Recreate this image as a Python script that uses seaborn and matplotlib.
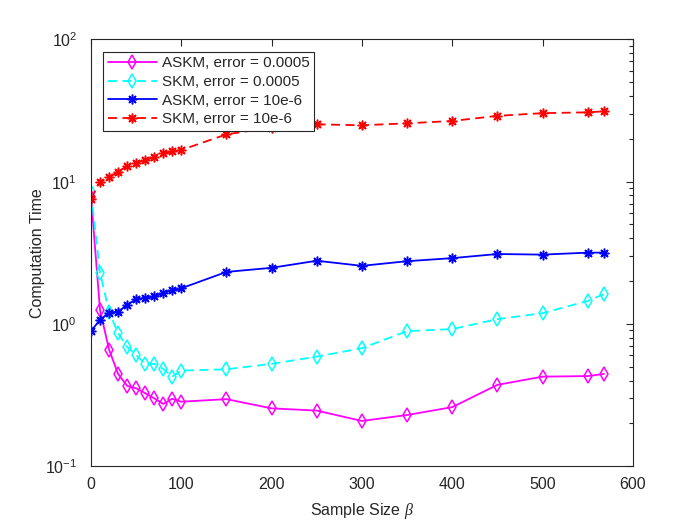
import numpy as np
import pandas as pd
import seaborn as sns
import matplotlib
matplotlib.use("Agg")
import matplotlib.pyplot as plt
from matplotlib.ticker import LogLocator, FixedLocator

# sample sizes
beta = [0, 10, 20, 30, 40, 50, 60, 70, 80, 90, 100,
        150, 200, 250, 300, 350, 400, 450, 500, 550, 568]

# computation times
askm_5e4 = [7.8, 1.25, 0.66, 0.445, 0.367, 0.353, 0.326, 0.30, 0.274, 0.298, 0.284,
            0.296, 0.255, 0.246, 0.208, 0.229, 0.26, 0.373, 0.426, 0.43, 0.445]
skm_5e4 = [8.4, 2.29, 1.22, 0.86, 0.69, 0.605, 0.524, 0.524, 0.483, 0.426, 0.47,
           0.48, 0.524, 0.589, 0.675, 0.89, 0.92, 1.08, 1.19, 1.45, 1.62]
askm_1e6 = [0.89, 1.07, 1.2, 1.22, 1.36, 1.49, 1.53, 1.56, 1.64, 1.73, 1.78,
            2.32, 2.48, 2.78, 2.56, 2.76, 2.9, 3.1, 3.07, 3.17, 3.17]
skm_1e6 = [7.6, 9.9, 10.7, 11.7, 12.9, 13.5, 14.2, 14.8, 15.8, 16.3, 16.7,
           21.5, 24.0, 25.3, 24.9, 25.7, 26.7, 29.0, 30.3, 30.7, 31.2]

labels = ["ASKM, error = 0.0005", "SKM, error = 0.0005",
          "ASKM, error = 10e-6", "SKM, error = 10e-6"]
colors = ["#ff00ff", "#00ffff", "#0000ff", "#ff0000"]
markers = ["d", "d", (8, 2, 0), (8, 2, 0)]
styles = ["-", "--", "-", "--"]

sns.set_style("white")
plt.rcParams["font.family"] = ["Liberation Sans", "DejaVu Sans"]
plt.rcParams["mathtext.fontset"] = "custom"
plt.rcParams["mathtext.rm"] = "Liberation Sans"
plt.rcParams["mathtext.it"] = "Liberation Serif:italic"
plt.rcParams["font.size"] = 11.5

fig = plt.figure(figsize=(7, 5.25), dpi=100)
ax = fig.add_axes([0.13, 0.112, 0.774, 0.813])

series = [askm_5e4, skm_5e4, askm_1e6, skm_1e6]
for vals, lab, c, m, ls in zip(series, labels, colors, markers, styles):
    df = pd.DataFrame({"beta": beta, "time": vals})
    hollow = m == "d"
    sns.lineplot(data=df, x="beta", y="time", ax=ax, color=c, label=lab,
                 linewidth=1.3, marker=m, markersize=7.5 if hollow else 7,
                 markerfacecolor="none" if hollow else c, markeredgecolor=c,
                 markeredgewidth=1.1)
    if ls == "--":
        ax.lines[-1].set_dashes((5, 3))

ax.set_yscale("log")
ax.set_xlim(0, 600)
ax.set_ylim(0.1, 100)
ax.xaxis.set_major_locator(FixedLocator([0, 100, 200, 300, 400, 500, 600]))
ax.yaxis.set_major_locator(LogLocator(base=10, numticks=10))
ax.yaxis.set_minor_locator(LogLocator(base=10, subs=np.arange(2, 10), numticks=10))
ax.tick_params(which="both", direction="in", top=True, right=True,
               color="#262626", labelcolor="#262626", labelsize=11.5)
ax.tick_params(which="major", length=5, width=0.8)
ax.tick_params(which="minor", length=3, width=0.8)
ax.tick_params(axis="x", pad=8)
ax.tick_params(axis="y", pad=10)
for sp in ax.spines.values():
    sp.set_color("#262626")
    sp.set_linewidth(0.8)
    sp.set_visible(True)

ax.set_xlabel(r"Sample Size $\beta$", color="#262626", fontsize=11.5, labelpad=6)
ax.set_ylabel("Computation Time", color="#262626", fontsize=11.5, labelpad=0)

leg = ax.legend(loc="upper left", bbox_to_anchor=(0.023, 0.971), borderaxespad=0,
                fontsize=11, frameon=True, fancybox=False, framealpha=1,
                edgecolor="#262626", handlelength=3.2, handletextpad=0.3,
                labelspacing=0.3, borderpad=0.3)
leg.get_frame().set_linewidth(0.8)

fig.savefig("out.png", dpi=100)
